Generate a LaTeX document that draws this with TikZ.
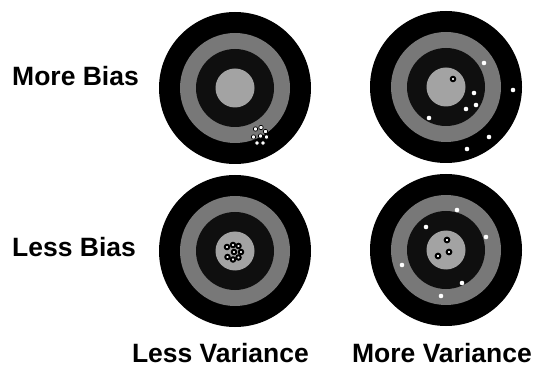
\documentclass[tikz,border=0pt]{standalone}
\usepackage{fontspec}
\setmainfont{Liberation Sans}
\usetikzlibrary{positioning}

\definecolor{ringgray}{gray}{0.47}
\definecolor{ringdark}{gray}{0.06}
\definecolor{bullgray}{gray}{0.64}

\tikzset{
  axislabel/.style={font=\fontsize{26.5}{30}\selectfont\bfseries,text=black,inner sep=0pt},
  shot/.style={fill=white},
  ringshot/.style={fill=white,draw=black,line width=1.4pt},
}

\begin{document}
\begin{tikzpicture}[x=1pt,y=-1pt]
\useasboundingbox (0,0) rectangle (535,371);

% targets
\foreach \cx/\cy in {235/88, 446/87, 235/251, 446/250} {
  \fill[black] (\cx,\cy) circle (76);
  \fill[ringgray] (\cx,\cy) circle (55);
  \fill[ringdark] (\cx,\cy) circle (39);
  \fill[bullgray] (\cx,\cy) circle (19.5);
}

% more bias, less variance
\foreach \px/\py in {255.5/129, 261/127.5, 265.5/131.5, 266.5/137, 263/143, 257/143, 253.5/137, 260.5/136}
  \filldraw[ringshot,line width=0.7pt] (\px,\py) circle (2.2);
% less bias, less variance
\foreach \px/\py in {227/247, 233/245, 238.5/246, 241/252, 238.5/257.5, 233/259.5, 227.5/257, 234/252}
  \filldraw[ringshot,line width=2pt] (\px,\py) circle (2.2);

% more bias, more variance
\foreach \px/\py in {484/63, 513/90, 474/93, 476/105, 466/109, 429/118, 489/137, 467/149}
  \fill[shot] (\px,\py) circle (2.3);
\filldraw[ringshot,line width=2pt] (453,79) circle (2.2);

% less bias, more variance
\foreach \px/\py in {457/210, 426/227, 486/237, 402/265, 462/283, 441/296}
  \fill[shot] (\px,\py) circle (2.3);
\foreach \px/\py in {447/240, 449/252, 438/256}
  \filldraw[ringshot,line width=2pt] (\px,\py) circle (2.3);

% labels
\node[axislabel,anchor=base west] (mb) at (12,86) {More Bias};
\node[axislabel,anchor=base west] (lb) at (12,257) {Less Bias};
\node[axislabel,anchor=base east] (lv) at (309,362) {Less Variance};
\node[axislabel,anchor=base east] (mv) at (532,362) {More Variance};

\end{tikzpicture}
\end{document}
